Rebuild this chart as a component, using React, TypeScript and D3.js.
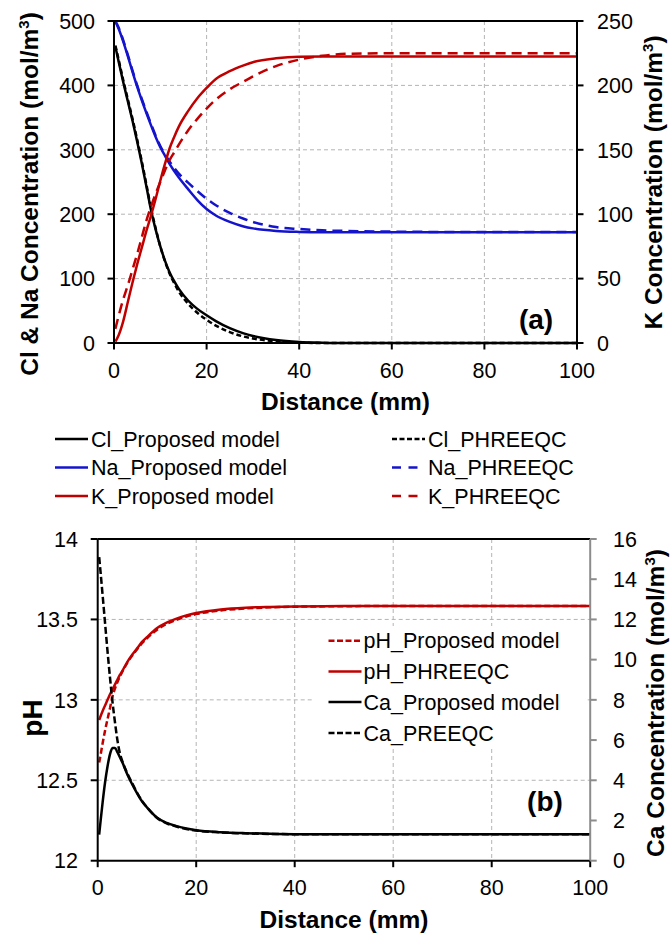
import React from "react";
import * as d3 from "d3";

// ---------- Data: panel (a) ----------
const distA = [0.3, 1, 2, 3, 4, 5, 6, 7, 8, 9, 10, 11, 12, 13, 14, 16, 18, 20, 22, 25, 28, 30, 35, 40, 45, 50, 60, 70, 80, 90, 100];
const clModel = [460, 437, 405, 375, 345, 313, 279, 243, 206, 176, 150, 128, 110, 96, 84, 66, 53, 43, 34, 23, 15, 11, 4.5, 1.5, 0.5, 0, 0, 0, 0, 0, 0];
const clPhreeqc = [462, 440, 408, 378, 348, 316, 282, 246, 209, 178, 150, 127, 108, 93, 80, 61, 47, 36, 27, 17, 10, 7, 2.5, 0.7, 0, 0, 0, 0, 0, 0, 0];
const naModel = [499, 488, 468, 445, 421, 398, 377, 357, 338, 320, 304, 291, 278, 267, 257, 239, 222, 208, 198, 188, 181, 178, 174, 172.5, 172, 172, 172, 172, 172, 172, 172];
const naPhreeqc = [500, 490, 470, 447, 423, 400, 379, 359, 340, 322, 306, 293, 282, 272, 263, 249, 236, 224, 214, 202, 193, 188, 180, 177, 175, 174, 173, 172.5, 172.5, 172.5, 172.5];
const kModel = [1, 6, 17, 32, 47, 61, 74, 87, 99, 112, 126, 139, 151, 160, 168, 180, 190, 198, 205, 211, 215.5, 218, 221, 222.3, 222.5, 222.5, 222.5, 222.5, 222.5, 222.5, 222.5];
const kPhreeqc = [11, 21, 34, 45, 57, 69, 82, 95, 106, 116, 125, 134, 142, 148, 154, 165, 174, 182, 189, 197, 203, 207, 215, 220, 223, 224.5, 225, 225, 225, 225, 225];

// ---------- Data: panel (b) ----------
const distB = [0.3, 0.6, 1, 1.5, 2, 2.5, 3, 3.5, 4, 4.5, 5, 6, 7, 8, 9, 10, 12, 14, 16, 18, 20, 25, 30, 35, 40, 50, 60, 70, 80, 90, 100];
const phModel = [12.61, 12.66, 12.73, 12.81, 12.88, 12.95, 13.02, 13.07, 13.11, 13.145, 13.175, 13.23, 13.275, 13.315, 13.352, 13.383, 13.435, 13.472, 13.498, 13.518, 13.533, 13.556, 13.568, 13.575, 13.579, 13.582, 13.584, 13.584, 13.584, 13.584, 13.584];
const phPhreeqc = [12.875, 12.9, 12.93, 12.965, 13.0, 13.035, 13.065, 13.095, 13.125, 13.155, 13.18, 13.235, 13.28, 13.32, 13.36, 13.39, 13.445, 13.48, 13.505, 13.525, 13.54, 13.562, 13.573, 13.578, 13.581, 13.583, 13.584, 13.584, 13.584, 13.584, 13.584];
const caModel = [1.3, 2.0, 2.9, 3.9, 4.7, 5.3, 5.6, 5.6, 5.4, 5.15, 4.9, 4.3, 3.8, 3.35, 2.95, 2.65, 2.15, 1.88, 1.72, 1.6, 1.52, 1.42, 1.37, 1.34, 1.32, 1.31, 1.31, 1.31, 1.31, 1.31, 1.31];
const caPhreeqc = [15.1, 14.3, 13.2, 11.8, 10.4, 9.1, 7.9, 6.9, 6.0, 5.35, 4.95, 4.35, 3.85, 3.38, 2.97, 2.66, 2.14, 1.86, 1.7, 1.58, 1.5, 1.41, 1.36, 1.33, 1.32, 1.31, 1.31, 1.31, 1.31, 1.31, 1.31];

// ---------- Ticks & labels ----------
const xTicks = [0, 20, 40, 60, 80, 100];
const clNaTicks = [0, 100, 200, 300, 400, 500];
const kTicks = [0, 50, 100, 150, 200, 250];
const phTicks = [12, 12.5, 13, 13.5, 14];
const caTicks = [0, 2, 4, 6, 8, 10, 12, 14, 16];
const legendALabels = ["Cl_Proposed model", "Na_Proposed model", "K_Proposed model", "Cl_PHREEQC", "Na_PHREEQC", "K_PHREEQC"];
const legendBLabels = ["pH_Proposed model", "pH_PHREEQC", "Ca_Proposed model", "Ca_PREEQC"];

const FONT = "'Liberation Sans', Arial, Helvetica, sans-serif";
const BLACK = "#000000";
const BLUE = "#1414cc";
const RED = "#c00000";
const GRID = "#b4b4b4";

function mkLine(xs: number[], xScale: any, yScale: any) {
  return d3
    .line<number>()
    .x((_d, i) => xScale(xs[i]))
    .y((d) => yScale(d))
    .curve(d3.curveMonotoneX);
}

export default function App() {
  // panel (a) scales
  const xA = d3.scaleLinear().domain([0, 100]).range([114, 577]);
  const yA = d3.scaleLinear().domain([0, 500]).range([343, 21]);
  const yA2 = d3.scaleLinear().domain([0, 250]).range([343, 21]);
  // panel (b) scales
  const xB = d3.scaleLinear().domain([0, 100]).range([97.7, 590.2]);
  const yB = d3.scaleLinear().domain([12, 14]).range([860.7, 539]);
  const yB2 = d3.scaleLinear().domain([0, 16]).range([860.7, 539]);

  const lA = mkLine(distA, xA, yA);
  const lA2 = mkLine(distA, xA, yA2);
  const lB = mkLine(distB, xB, yB);
  const lB2 = mkLine(distB, xB, yB2);

  const seriesA = [
    { d: lA(clPhreeqc), c: BLACK, dash: "5 3" },
    { d: lA(clModel), c: BLACK, dash: "" },
    { d: lA(naPhreeqc), c: BLUE, dash: "10 6" },
    { d: lA(naModel), c: BLUE, dash: "" },
    { d: lA2(kPhreeqc), c: RED, dash: "10 6" },
    { d: lA2(kModel), c: RED, dash: "" },
  ];
  const seriesB = [
    { d: lB(phModel), c: RED, dash: "6 3" },
    { d: lB(phPhreeqc), c: RED, dash: "" },
    { d: lB2(caPhreeqc), c: BLACK, dash: "7 3" },
    { d: lB2(caModel), c: BLACK, dash: "" },
  ];

  const legA = [
    { x: 55, y: 439, c: BLACK, dash: "" },
    { x: 55, y: 467.5, c: BLUE, dash: "" },
    { x: 55, y: 496, c: RED, dash: "" },
    { x: 392, y: 439, c: BLACK, dash: "5 2.5" },
    { x: 392, y: 467.5, c: BLUE, dash: "9 7.5" },
    { x: 392, y: 496, c: RED, dash: "9 7.5" },
  ];
  const legB = [
    { y: 640.7, c: RED, dash: "6 2.5" },
    { y: 671.5, c: RED, dash: "" },
    { y: 702, c: BLACK, dash: "" },
    { y: 733, c: BLACK, dash: "6 2.5" },
  ];

  const tickFs = 21.5;
  const titleFs = 24.5;

  return (
    <svg
      width={670}
      height={935}
      viewBox="0 0 670 935"
      style={{ position: "absolute", left: 0, top: 0, background: "#fff" }}
      fontFamily={FONT}
    >
      <rect x={0} y={0} width={670} height={935} fill="#fff" />

      {/* ================= Panel (a) ================= */}
      <g>
        {xTicks.slice(1, -1).map((t) => (
          <line key={"ga" + t} x1={xA(t)} x2={xA(t)} y1={yA(500)} y2={yA(0)} stroke={GRID} strokeWidth={1} strokeDasharray="4 3" />
        ))}
        {clNaTicks.slice(1, -1).map((t) => (
          <line key={"gha" + t} x1={xA(0)} x2={xA(100)} y1={yA(t)} y2={yA(t)} stroke={GRID} strokeWidth={1} strokeDasharray="4 3" />
        ))}
        {seriesA.map((s, i) => (
          <path key={"sa" + i} d={s.d || ""} fill="none" stroke={s.c} strokeWidth={2.5} strokeDasharray={s.dash || undefined} />
        ))}
        <line x1={xA(0)} x2={xA(100)} y1={yA(500)} y2={yA(500)} stroke="#000" strokeWidth={2} />
        <line x1={xA(0)} x2={xA(100)} y1={yA(0)} y2={yA(0)} stroke="#000" strokeWidth={2} />
        <line x1={xA(0)} x2={xA(0)} y1={yA(0)} y2={yA(500)} stroke="#000" strokeWidth={2} />
        <line x1={xA(100)} x2={xA(100)} y1={yA(0)} y2={yA(500)} stroke="#000" strokeWidth={2} />
        {xTicks.map((t) => (
          <g key={"xta" + t}>
            <line x1={xA(t)} x2={xA(t)} y1={yA(0)} y2={yA(0) + 6.5} stroke="#000" strokeWidth={2} />
            <text x={xA(t)} y={378} fontSize={tickFs} textAnchor="middle" fill="#000">{t}</text>
          </g>
        ))}
        {clNaTicks.map((t) => (
          <g key={"yta" + t}>
            <line x1={xA(0) - 6.5} x2={xA(0)} y1={yA(t)} y2={yA(t)} stroke="#000" strokeWidth={2} />
            <text x={95} y={yA(t)} dy="0.36em" fontSize={tickFs} textAnchor="end" fill="#000">{t}</text>
          </g>
        ))}
        {kTicks.map((t) => (
          <g key={"kta" + t}>
            <line x1={xA(100)} x2={xA(100) + 6.5} y1={yA2(t)} y2={yA2(t)} stroke="#000" strokeWidth={2} />
            <text x={597} y={yA2(t)} dy="0.36em" fontSize={tickFs} textAnchor="start" fill="#000">{t}</text>
          </g>
        ))}
        <text x={345.5} y={410} fontSize={titleFs} fontWeight="bold" textAnchor="middle">Distance (mm)</text>
        <text transform="translate(37.5,194) rotate(-90)" fontSize={titleFs} fontWeight="bold" textAnchor="middle">
          Cl &amp; Na Concentration (mol/m<tspan dy={-9} fontSize={15}>3</tspan><tspan dy={9}>)</tspan>
        </text>
        <text transform="translate(662,182.5) rotate(-90)" fontSize={titleFs} fontWeight="bold" textAnchor="middle">
          K Concentration (mol/m<tspan dy={-9} fontSize={15}>3</tspan><tspan dy={9}>)</tspan>
        </text>
        <text x={536} y={329} fontSize={28} fontWeight="bold" textAnchor="middle">(a)</text>
      </g>

      {/* legend (a) */}
      <g>
        {legA.map((l, i) => (
          <g key={"la" + i}>
            <line x1={l.x} x2={l.x + 33} y1={l.y} y2={l.y} stroke={l.c} strokeWidth={2.5} strokeDasharray={l.dash || undefined} />
            <text x={l.x + 36} y={l.y} dy="0.36em" fontSize={21.5} fill="#000">{legendALabels[i]}</text>
          </g>
        ))}
      </g>

      {/* ================= Panel (b) ================= */}
      <g>
        {xTicks.slice(1, -1).map((t) => (
          <line key={"gb" + t} x1={xB(t)} x2={xB(t)} y1={yB(14)} y2={yB(12)} stroke={GRID} strokeWidth={1} strokeDasharray="4 3" />
        ))}
        {phTicks.slice(1, -1).map((t) => (
          <line key={"ghb" + t} x1={xB(0)} x2={xB(100)} y1={yB(t)} y2={yB(t)} stroke={GRID} strokeWidth={1} strokeDasharray="4 3" />
        ))}
        <rect x={313} y={626} width={273} height={123} fill="#fff" />
        {seriesB.map((s, i) => (
          <path key={"sb" + i} d={s.d || ""} fill="none" stroke={s.c} strokeWidth={2.5} strokeDasharray={s.dash || undefined} />
        ))}
        <line x1={xB(0)} x2={xB(100)} y1={yB(14)} y2={yB(14)} stroke="#000" strokeWidth={2} />
        <line x1={xB(0)} x2={xB(100)} y1={yB(12)} y2={yB(12)} stroke="#000" strokeWidth={2} />
        <line x1={xB(0)} x2={xB(0)} y1={yB(12)} y2={yB(14)} stroke="#000" strokeWidth={2} />
        <line x1={xB(100)} x2={xB(100)} y1={yB(12)} y2={yB(14)} stroke="#8c8c8c" strokeWidth={2} />
        {xTicks.map((t) => (
          <g key={"xtb" + t}>
            <line x1={xB(t)} x2={xB(t)} y1={yB(12)} y2={yB(12) + 6.5} stroke="#000" strokeWidth={2} />
            <text x={xB(t)} y={895} fontSize={tickFs} textAnchor="middle" fill="#000">{t}</text>
          </g>
        ))}
        {phTicks.map((t) => (
          <g key={"ytb" + t}>
            <line x1={xB(0) - 7} x2={xB(0)} y1={yB(t)} y2={yB(t)} stroke="#000" strokeWidth={2} />
            <text x={78} y={yB(t)} dy="0.36em" fontSize={tickFs} textAnchor="end" fill="#000">{String(t)}</text>
          </g>
        ))}
        {caTicks.map((t) => (
          <g key={"ctb" + t}>
            <line x1={xB(100)} x2={xB(100) + 6.5} y1={yB2(t)} y2={yB2(t)} stroke="#8c8c8c" strokeWidth={2} />
            <text x={613} y={yB2(t)} dy="0.36em" fontSize={tickFs} textAnchor="start" fill="#000">{t}</text>
          </g>
        ))}
        <text x={344} y={928} fontSize={titleFs} fontWeight="bold" textAnchor="middle">Distance (mm)</text>
        <text transform="translate(41.5,718) rotate(-90)" fontSize={28} fontWeight="bold" textAnchor="middle">pH</text>
        <text transform="translate(664,703) rotate(-90)" fontSize={titleFs} fontWeight="bold" textAnchor="middle">
          Ca Concentration (mol/m<tspan dy={-9} fontSize={15}>3</tspan><tspan dy={9}>)</tspan>
        </text>
        <text x={545} y={811} fontSize={28} fontWeight="bold" textAnchor="middle">(b)</text>
        {legB.map((l, i) => (
          <g key={"lb" + i}>
            <line x1={328.5} x2={361.5} y1={l.y} y2={l.y} stroke={l.c} strokeWidth={2.5} strokeDasharray={l.dash || undefined} />
            <text x={363.5} y={l.y} dy="0.36em" fontSize={21.5} fill="#000">{legendBLabels[i]}</text>
          </g>
        ))}
      </g>
    </svg>
  );
}
